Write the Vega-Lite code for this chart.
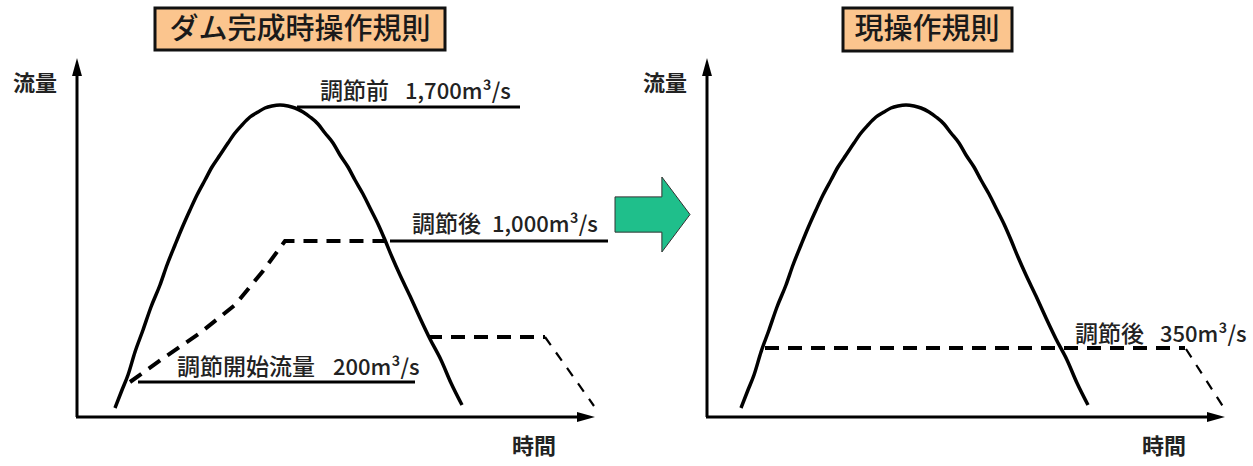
{
  "$schema": "https://vega.github.io/schema/vega-lite/v6.json",
  "width": 1253,
  "height": 466,
  "autosize": {"type": "none"},
  "padding": 0,
  "background": "white",
  "config": {"view": {"stroke": null}},
  "datasets": {
    "curves": [
      {"id": "L", "o": 1, "x": 115, "y": 408}, {"id": "L", "o": 2, "x": 122, "y": 390}, {"id": "L", "o": 3, "x": 128, "y": 375}, {"id": "L", "o": 4, "x": 135, "y": 352}, {"id": "L", "o": 5, "x": 143, "y": 330}, {"id": "L", "o": 6, "x": 151, "y": 307}, {"id": "L", "o": 7, "x": 160, "y": 285}, {"id": "L", "o": 8, "x": 167, "y": 265}, {"id": "L", "o": 9, "x": 175, "y": 245}, {"id": "L", "o": 10, "x": 182, "y": 228}, {"id": "L", "o": 11, "x": 190, "y": 210}, {"id": "L", "o": 12, "x": 197, "y": 195}, {"id": "L", "o": 13, "x": 205, "y": 180}, {"id": "L", "o": 14, "x": 212, "y": 167}, {"id": "L", "o": 15, "x": 220, "y": 155}, {"id": "L", "o": 16, "x": 228, "y": 143}, {"id": "L", "o": 17, "x": 235, "y": 133}, {"id": "L", "o": 18, "x": 242, "y": 125}, {"id": "L", "o": 19, "x": 250, "y": 117}, {"id": "L", "o": 20, "x": 258, "y": 112}, {"id": "L", "o": 21, "x": 265, "y": 108}, {"id": "L", "o": 22, "x": 272, "y": 106}, {"id": "L", "o": 23, "x": 280, "y": 105}, {"id": "L", "o": 24, "x": 288, "y": 106}, {"id": "L", "o": 25, "x": 295, "y": 108}, {"id": "L", "o": 26, "x": 303, "y": 112}, {"id": "L", "o": 27, "x": 310, "y": 117}, {"id": "L", "o": 28, "x": 318, "y": 124}, {"id": "L", "o": 29, "x": 325, "y": 133}, {"id": "L", "o": 30, "x": 333, "y": 143}, {"id": "L", "o": 31, "x": 340, "y": 155}, {"id": "L", "o": 32, "x": 348, "y": 167}, {"id": "L", "o": 33, "x": 355, "y": 180}, {"id": "L", "o": 34, "x": 363, "y": 194}, {"id": "L", "o": 35, "x": 370, "y": 208}, {"id": "L", "o": 36, "x": 378, "y": 224}, {"id": "L", "o": 37, "x": 385, "y": 240}, {"id": "L", "o": 38, "x": 392, "y": 257}, {"id": "L", "o": 39, "x": 400, "y": 275}, {"id": "L", "o": 40, "x": 410, "y": 296}, {"id": "L", "o": 41, "x": 420, "y": 318}, {"id": "L", "o": 42, "x": 430, "y": 339}, {"id": "L", "o": 43, "x": 441, "y": 360}, {"id": "L", "o": 44, "x": 451, "y": 383}, {"id": "L", "o": 45, "x": 462, "y": 405},
      {"id": "R", "o": 1, "x": 741, "y": 408}, {"id": "R", "o": 2, "x": 748, "y": 390}, {"id": "R", "o": 3, "x": 754, "y": 375}, {"id": "R", "o": 4, "x": 761, "y": 352}, {"id": "R", "o": 5, "x": 769, "y": 330}, {"id": "R", "o": 6, "x": 777, "y": 307}, {"id": "R", "o": 7, "x": 786, "y": 285}, {"id": "R", "o": 8, "x": 793, "y": 265}, {"id": "R", "o": 9, "x": 801, "y": 245}, {"id": "R", "o": 10, "x": 808, "y": 228}, {"id": "R", "o": 11, "x": 816, "y": 210}, {"id": "R", "o": 12, "x": 823, "y": 195}, {"id": "R", "o": 13, "x": 831, "y": 180}, {"id": "R", "o": 14, "x": 838, "y": 167}, {"id": "R", "o": 15, "x": 846, "y": 155}, {"id": "R", "o": 16, "x": 854, "y": 143}, {"id": "R", "o": 17, "x": 861, "y": 133}, {"id": "R", "o": 18, "x": 868, "y": 125}, {"id": "R", "o": 19, "x": 876, "y": 117}, {"id": "R", "o": 20, "x": 884, "y": 112}, {"id": "R", "o": 21, "x": 891, "y": 108}, {"id": "R", "o": 22, "x": 898, "y": 106}, {"id": "R", "o": 23, "x": 906, "y": 105}, {"id": "R", "o": 24, "x": 914, "y": 106}, {"id": "R", "o": 25, "x": 921, "y": 108}, {"id": "R", "o": 26, "x": 929, "y": 112}, {"id": "R", "o": 27, "x": 936, "y": 117}, {"id": "R", "o": 28, "x": 944, "y": 124}, {"id": "R", "o": 29, "x": 951, "y": 133}, {"id": "R", "o": 30, "x": 959, "y": 143}, {"id": "R", "o": 31, "x": 966, "y": 155}, {"id": "R", "o": 32, "x": 974, "y": 167}, {"id": "R", "o": 33, "x": 981, "y": 180}, {"id": "R", "o": 34, "x": 989, "y": 194}, {"id": "R", "o": 35, "x": 996, "y": 208}, {"id": "R", "o": 36, "x": 1004, "y": 224}, {"id": "R", "o": 37, "x": 1011, "y": 240}, {"id": "R", "o": 38, "x": 1018, "y": 257}, {"id": "R", "o": 39, "x": 1026, "y": 275}, {"id": "R", "o": 40, "x": 1036, "y": 296}, {"id": "R", "o": 41, "x": 1046, "y": 318}, {"id": "R", "o": 42, "x": 1056, "y": 339}, {"id": "R", "o": 43, "x": 1067, "y": 360}, {"id": "R", "o": 44, "x": 1077, "y": 383}, {"id": "R", "o": 45, "x": 1088, "y": 405}
    ],
    "thickDash": [
      {"id": "a", "o": 1, "x": 130, "y": 382}, {"id": "a", "o": 2, "x": 165, "y": 357}, {"id": "a", "o": 3, "x": 200, "y": 333}, {"id": "a", "o": 4, "x": 235, "y": 305}, {"id": "a", "o": 5, "x": 263, "y": 271}, {"id": "a", "o": 6, "x": 285, "y": 241}, {"id": "a", "o": 7, "x": 385, "y": 241},
      {"id": "b", "o": 1, "x": 428, "y": 337}, {"id": "b", "o": 2, "x": 545, "y": 337},
      {"id": "c", "o": 1, "x": 765, "y": 348}, {"id": "c", "o": 2, "x": 1185, "y": 348}
    ],
    "thinDash": [
      {"id": "d", "o": 1, "x": 545, "y": 337}, {"id": "d", "o": 2, "x": 594, "y": 406},
      {"id": "e", "o": 1, "x": 1186, "y": 349}, {"id": "e", "o": 2, "x": 1224, "y": 408}
    ],
    "rules": [
      {"x": 297, "x2": 520, "y": 107, "y2": 107},
      {"x": 390, "x2": 608, "y": 241, "y2": 241},
      {"x": 138, "x2": 415, "y": 382, "y2": 382},
      {"x": 77, "x2": 77, "y": 417, "y2": 70},
      {"x": 76, "x2": 584, "y": 417, "y2": 417},
      {"x": 707, "x2": 707, "y": 417, "y2": 70},
      {"x": 706, "x2": 1214, "y": 417, "y2": 417}
    ],
    "heads": [
      {"x": 77, "y": 67, "dir": "up"},
      {"x": 707, "y": 67, "dir": "up"},
      {"x": 586, "y": 417, "dir": "right"},
      {"x": 1216, "y": 417, "dir": "right"}
    ],
    "boxes": [
      {"x": 155, "x2": 445, "y": 8, "y2": 50},
      {"x": 843, "x2": 1012, "y": 8, "y2": 51}
    ],
    "titles": [
      {"x": 300, "y": 30, "t": "ダム完成時操作規則"},
      {"x": 927, "y": 30, "t": "現操作規則"}
    ],
    "axisLabels": [
      {"x": 35, "y": 84, "t": "流量"},
      {"x": 665, "y": 84, "t": "流量"},
      {"x": 534, "y": 447, "t": "時間"},
      {"x": 1164, "y": 447, "t": "時間"}
    ],
    "noteLabels": [
      {"x": 320, "y": 92, "t": "調節前"},
      {"x": 412, "y": 225, "t": "調節後"},
      {"x": 177, "y": 368, "t": "調節開始流量"},
      {"x": 1075, "y": 335, "t": "調節後"}
    ],
    "noteValues": [
      {"x": 405, "y": 92, "t": "1,700m³/s"},
      {"x": 492, "y": 225, "t": "1,000m³/s"},
      {"x": 333, "y": 368, "t": "200m³/s"},
      {"x": 1160, "y": 335, "t": "350m³/s"}
    ],
    "bigArrow": [
      {"x": 652.5, "y": 214.5}
    ]
  },
  "layer": [
    {
      "data": {"name": "boxes"},
      "mark": {"type": "rect", "fill": "#fbc58e", "stroke": "#111111", "strokeWidth": 3},
      "encoding": {
        "x": {"field": "x", "type": "quantitative", "scale": {"domain": [0, 1253], "nice": false, "zero": false}, "axis": null},
        "x2": {"field": "x2"},
        "y": {"field": "y", "type": "quantitative", "scale": {"domain": [0, 466], "reverse": true, "nice": false, "zero": false}, "axis": null},
        "y2": {"field": "y2"}
      }
    },
    {
      "data": {"name": "titles"},
      "mark": {"type": "text", "font": "Noto Sans CJK JP", "fontSize": 29, "fontWeight": 500, "color": "#1a1a1a", "align": "center", "baseline": "middle"},
      "encoding": {
        "x": {"field": "x", "type": "quantitative"},
        "y": {"field": "y", "type": "quantitative"},
        "text": {"field": "t"}
      }
    },
    {
      "data": {"name": "curves"},
      "mark": {"type": "line", "color": "#000000", "strokeWidth": 3.5, "interpolate": "monotone"},
      "encoding": {
        "x": {"field": "x", "type": "quantitative"},
        "y": {"field": "y", "type": "quantitative"},
        "detail": {"field": "id"},
        "order": {"field": "o"}
      }
    },
    {
      "data": {"name": "thickDash"},
      "mark": {"type": "line", "color": "#000000", "strokeWidth": 4, "strokeDash": [14, 9]},
      "encoding": {
        "x": {"field": "x", "type": "quantitative"},
        "y": {"field": "y", "type": "quantitative"},
        "detail": {"field": "id"},
        "order": {"field": "o"}
      }
    },
    {
      "data": {"name": "thinDash"},
      "mark": {"type": "line", "color": "#000000", "strokeWidth": 2.2, "strokeDash": [10, 9]},
      "encoding": {
        "x": {"field": "x", "type": "quantitative"},
        "y": {"field": "y", "type": "quantitative"},
        "detail": {"field": "id"},
        "order": {"field": "o"}
      }
    },
    {
      "data": {"name": "rules"},
      "mark": {"type": "rule", "color": "#000000", "strokeWidth": 3},
      "encoding": {
        "x": {"field": "x", "type": "quantitative"},
        "x2": {"field": "x2"},
        "y": {"field": "y", "type": "quantitative"},
        "y2": {"field": "y2"}
      }
    },
    {
      "data": {"name": "heads"},
      "transform": [{"filter": "datum.dir == 'up'"}],
      "mark": {"type": "point", "filled": true, "color": "#000000", "opacity": 1, "size": 324, "shape": "M0,-1L0.55,1L-0.55,1Z"},
      "encoding": {
        "x": {"field": "x", "type": "quantitative"},
        "y": {"field": "y", "type": "quantitative"}
      }
    },
    {
      "data": {"name": "heads"},
      "transform": [{"filter": "datum.dir == 'right'"}],
      "mark": {"type": "point", "filled": true, "color": "#000000", "opacity": 1, "size": 324, "shape": "M1,0L-1,-0.55L-1,0.55Z"},
      "encoding": {
        "x": {"field": "x", "type": "quantitative"},
        "y": {"field": "y", "type": "quantitative"}
      }
    },
    {
      "data": {"name": "bigArrow"},
      "mark": {"type": "point", "filled": true, "fill": "#1fbf8b", "stroke": "#333333", "strokeWidth": 1, "opacity": 1, "size": 5625, "shape": "M-1,-0.47L0.25,-0.47L0.25,-1L1,0L0.25,1L0.25,0.47L-1,0.47Z"},
      "encoding": {
        "x": {"field": "x", "type": "quantitative"},
        "y": {"field": "y", "type": "quantitative"}
      }
    },
    {
      "data": {"name": "axisLabels"},
      "mark": {"type": "text", "font": "Noto Sans CJK JP", "fontSize": 22, "fontWeight": "bold", "color": "#222222", "align": "center", "baseline": "middle"},
      "encoding": {
        "x": {"field": "x", "type": "quantitative"},
        "y": {"field": "y", "type": "quantitative"},
        "text": {"field": "t"}
      }
    },
    {
      "data": {"name": "noteLabels"},
      "mark": {"type": "text", "font": "Noto Sans CJK JP", "fontSize": 23, "fontWeight": 500, "color": "#222222", "align": "left", "baseline": "middle"},
      "encoding": {
        "x": {"field": "x", "type": "quantitative"},
        "y": {"field": "y", "type": "quantitative"},
        "text": {"field": "t"}
      }
    },
    {
      "data": {"name": "noteValues"},
      "mark": {"type": "text", "font": "Noto Sans CJK JP", "fontSize": 22, "fontWeight": 500, "color": "#222222", "align": "left", "baseline": "middle"},
      "encoding": {
        "x": {"field": "x", "type": "quantitative"},
        "y": {"field": "y", "type": "quantitative"},
        "text": {"field": "t"}
      }
    }
  ]
}
